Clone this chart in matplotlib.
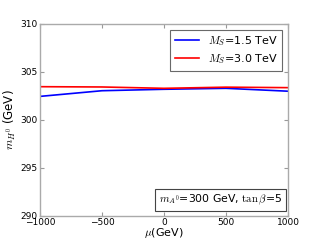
import matplotlib
matplotlib.use('Agg')
import matplotlib.pyplot as plt

# data
mu = [-1000, -500, 0, 500, 1000]
mh_15 = [302.46, 303.05, 303.2, 303.3, 303.0]
mh_30 = [303.47, 303.44, 303.3, 303.42, 303.37]

plt.rcParams['mathtext.fontset'] = 'cm'
plt.rcParams['font.family'] = 'DejaVu Sans'

fig = plt.figure(figsize=(3.2, 2.4), dpi=100)
ax = fig.add_axes([0.125, 0.1, 0.775, 0.8])

ax.plot(mu, mh_15, color='blue', lw=1.2, label=r'$M_S$=1.5 TeV')
ax.plot(mu, mh_30, color='red', lw=1.2, label=r'$M_S$=3.0 TeV')

ax.set_xlim(-1000, 1000)
ax.set_ylim(290, 310)
ax.set_xticks([-1000, -500, 0, 500, 1000])
ax.set_yticks([290, 295, 300, 305, 310])
ax.tick_params(direction='in', top=True, right=True, labelsize=6.5,
               length=3, color='#999999', pad=1.5)
for s in ax.spines.values():
    s.set_color('#aaaaaa')
    s.set_linewidth(1.0)

ax.set_xlabel(r'$\mu$(GeV)', fontsize=8, labelpad=-0.5)
ax.set_ylabel(r'$m_{H^0}$ (GeV)', fontsize=8.5, labelpad=2)

leg = ax.legend(loc='upper right', fontsize=8, fancybox=False,
                handlelength=2.2, borderpad=0.4, labelspacing=0.4)
leg.get_frame().set_edgecolor('#444444')
leg.get_frame().set_linewidth(0.8)

ax.text(0.975, 0.045, r'$m_{A^0}$=300 GeV, $\tan\beta$=5', transform=ax.transAxes,
        ha='right', va='bottom', fontsize=7.8,
        bbox=dict(boxstyle='square,pad=0.35', fc='white', ec='#444444', lw=0.8))

fig.savefig('out.png', dpi=100, facecolor='white')
